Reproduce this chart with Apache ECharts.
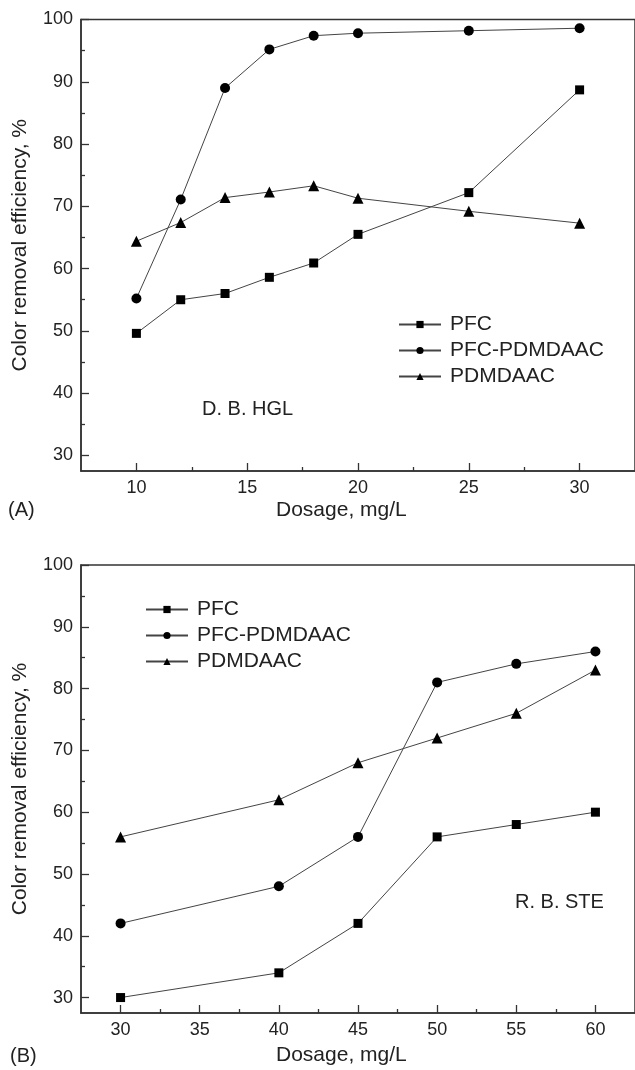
<!DOCTYPE html>
<html lang="en">
<head>
    <meta charset="UTF-8">
    <title>Color removal efficiency vs dosage</title>
    <style>
        * { box-sizing: border-box; margin: 0; padding: 0; }
        body { background: #fff; }
        #chart { width: 635px; height: 1070px; }
    </style>
    <script src="https://cdn.jsdelivr.net/npm/echarts@6/dist/echarts.min.js"></script>
</head>
<body>
    <div id="chart"></div>

    <script>
        // (A) D. B. HGL
        const doseA = [10, 12, 14, 16, 18, 20, 25, 30];
        const pfcA = [49.6, 55.0, 56.0, 58.6, 60.9, 65.5, 72.2, 88.7];
        const pfcPdA = [55.2, 71.1, 89.0, 95.2, 97.4, 97.8, 98.2, 98.6];
        const pdA = [64.4, 67.4, 71.4, 72.3, 73.3, 71.3, 69.2, 67.3];

        // (B) R. B. STE
        const doseB = [30, 40, 45, 50, 55, 60];
        const pfcB = [30, 34, 42, 56, 58, 60];
        const pfcPdB = [42, 48, 56, 81, 84, 86];
        const pdB = [56, 62, 68, 72, 76, 83];

        // tick labels
        const xTicksA = [10, 15, 20, 25, 30];
        const xMinorA = [12.5, 17.5, 22.5, 27.5];
        const xTicksB = [30, 35, 40, 45, 50, 55, 60];
        const xMinorB = [32.5, 37.5, 42.5, 47.5, 52.5, 57.5];
        const yTicks = [30, 40, 50, 60, 70, 80, 90, 100];
        const yMinor = [35, 45, 55, 65, 75, 85, 95];

        const names = ['PFC', 'PFC-PDMDAAC', 'PDMDAAC'];
        const symbols = ['rect', 'circle', 'triangle'];
        const sizes = [9, 10, 11];

        const font = 'Liberation Sans, Arial, sans-serif';
        const ink = '#222';

        const pairs = (xs, ys) => xs.map((x, i) => [x, ys[i]]);

        // major ticks + labels on one axis, minor ticks on a second one at the same place
        function xAxes(grid, min, max, ticks, minor) {
            return [{
                gridIndex: grid, type: 'value', position: 'bottom', min: min, max: max,
                axisLine: { lineStyle: { color: '#333', width: 1.5 } },
                axisTick: { inside: true, length: 8, customValues: ticks, lineStyle: { color: '#333', width: 1.3 } },
                axisLabel: { customValues: ticks, fontSize: 18, color: ink, fontFamily: font, margin: 8 },
                splitLine: { show: false }
            }, {
                gridIndex: grid, type: 'value', position: 'bottom', min: min, max: max,
                axisLine: { show: false },
                axisTick: { inside: true, length: 4, customValues: minor, lineStyle: { color: '#333', width: 1.3 } },
                axisLabel: { show: false },
                splitLine: { show: false }
            }];
        }

        function yAxes(grid) {
            return [{
                gridIndex: grid, type: 'value', position: 'left', min: 27.5, max: 100,
                name: 'Color removal efficiency, %', nameLocation: 'middle', nameGap: 50,
                nameTextStyle: { fontSize: 21, color: ink, fontFamily: font },
                axisLine: { show: true, lineStyle: { color: '#333', width: 1.5 } },
                axisTick: { inside: true, length: 8, customValues: yTicks, lineStyle: { color: '#333', width: 1.3 } },
                axisLabel: { customValues: yTicks, fontSize: 18, color: ink, fontFamily: font, margin: 8 },
                splitLine: { show: false }
            }, {
                gridIndex: grid, type: 'value', position: 'left', min: 27.5, max: 100,
                axisLine: { show: false },
                axisTick: { inside: true, length: 4, customValues: yMinor, lineStyle: { color: '#333', width: 1.3 } },
                axisLabel: { show: false },
                splitLine: { show: false }
            }];
        }

        function series(xIdx, yIdx, xs, sets) {
            return sets.map((ys, i) => ({
                name: names[i],
                type: 'line',
                xAxisIndex: xIdx,
                yAxisIndex: yIdx,
                data: pairs(xs, ys),
                symbol: symbols[i],
                symbolSize: sizes[i],
                itemStyle: { color: '#000' },
                lineStyle: { color: '#444', width: 1 },
                emphasis: { disabled: true },
                animation: false
            }));
        }

        function legend(left, top) {
            return {
                orient: 'vertical', left: left, top: top,
                itemWidth: 42, itemHeight: 9, itemGap: 5,
                data: names.map(n => ({ name: n })),
                textStyle: { fontSize: 21, color: ink, fontFamily: font, padding: [0, 0, 0, 4] },
                selectedMode: false
            };
        }

        const chart = echarts.init(document.getElementById('chart'));
        chart.setOption({
            backgroundColor: '#fff',
            animation: false,
            grid: [
                { left: 81, top: 19.5, width: 560, height: 451.5, show: true, borderColor: '#333', borderWidth: 1.5 },
                { left: 81, top: 565, width: 557.5, height: 448, show: true, borderColor: '#333', borderWidth: 1.5 }
            ],
            xAxis: xAxes(0, 7.5, 32.5, xTicksA, xMinorA).concat(xAxes(1, 27.5, 62.5, xTicksB, xMinorB)),
            yAxis: yAxes(0).concat(yAxes(1)),
            legend: [legend(393, 309), legend(140, 594)],
            series: series(0, 0, doseA, [pfcA, pfcPdA, pdA]).concat(series(2, 2, doseB, [pfcB, pfcPdB, pdB])),
            graphic: [
                { type: 'text', left: 202, top: 399, style: { text: 'D. B. HGL', fontSize: 20, fill: ink, fontFamily: font } },
                { type: 'text', left: 515, top: 892, style: { text: 'R. B. STE', fontSize: 20, fill: ink, fontFamily: font } },
                { type: 'text', left: 8, top: 500, style: { text: '(A)', fontSize: 20, fill: ink, fontFamily: font } },
                { type: 'text', left: 10, top: 1046, style: { text: '(B)', fontSize: 20, fill: ink, fontFamily: font } },
                { type: 'text', left: 276, top: 500, style: { text: 'Dosage, mg/L', fontSize: 21, fill: ink, fontFamily: font } },
                { type: 'text', left: 276, top: 1045, style: { text: 'Dosage, mg/L', fontSize: 21, fill: ink, fontFamily: font } }
            ]
        });
    </script>
</body>
</html>
